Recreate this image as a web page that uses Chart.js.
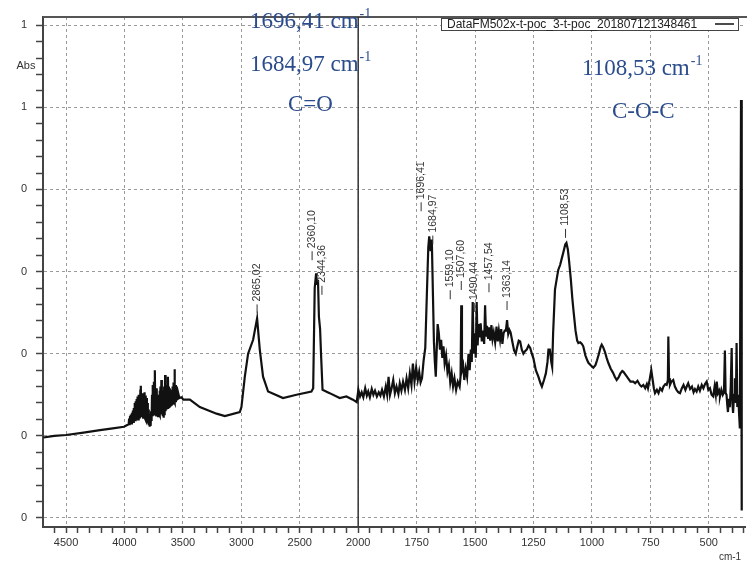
<!DOCTYPE html>
<html>
<head>
<meta charset="utf-8">
<script src="https://cdn.jsdelivr.net/npm/chart.js@4.4.1/dist/chart.umd.min.js"></script>
<style>
  html, body { margin: 0; padding: 0; background: #fff; }
  canvas { display: block; }
</style>
</head>
<body>
<canvas id="spectrum" width="747" height="565"></canvas>
<script>
// IR spectrum, wavenumber (cm-1) vs absorbance
const seriesLabel = 'DataFM502x-t-poc_3-t-poc_201807121348461';

const wavenumbers = [
  4694, 4600, 4500, 4350, 4209, 4100, 4004,
  3964, 3960, 3956, 3952, 3948, 3944, 3940, 3936, 3932, 3928,
  3924, 3920, 3916, 3912, 3908, 3904, 3900, 3896, 3892, 3888,
  3884, 3880, 3876, 3872, 3868, 3864, 3860, 3856, 3852, 3848,
  3844, 3840, 3836, 3832, 3828, 3824, 3820, 3816, 3812, 3808,
  3804, 3800, 3796, 3792, 3788, 3784, 3780, 3776, 3772, 3768,
  3764, 3760, 3756, 3752, 3748, 3744, 3740, 3736, 3732, 3728,
  3724, 3720, 3716, 3712, 3708, 3704, 3700, 3696, 3692, 3688,
  3684, 3680, 3676, 3672, 3668, 3664, 3660, 3656, 3652, 3648,
  3644, 3640, 3636, 3632, 3628, 3624, 3620, 3616, 3612, 3608,
  3604, 3600, 3596, 3592, 3588, 3584, 3580, 3576, 3572, 3568,
  3564, 3560, 3556, 3552, 3548, 3544, 3540,
  3530, 3510, 3497,
  3440, 3355, 3212, 3141, 3013, 2999, 2970, 2942, 2899, 2865, 2842, 2814, 2771, 2643, 2528, 2400,
  2385, 2372, 2360, 2352, 2344, 2336, 2326, 2318, 2305, 2244, 2158, 2101, 2045, 2013,
  1999, 1992, 1985, 1978, 1970, 1963, 1957, 1950, 1942, 1935, 1928, 1920, 1912, 1905, 1898, 1890,
  1882, 1876, 1870, 1864, 1857, 1850, 1843, 1836, 1828, 1822, 1815, 1808, 1800, 1793, 1786, 1779,
  1772, 1766, 1759, 1752, 1745, 1739, 1733, 1727, 1720, 1713, 1706, 1700, 1696, 1690, 1685, 1680,
  1676, 1672, 1668, 1664, 1660, 1655, 1650, 1645, 1640, 1635, 1630, 1624, 1618, 1612, 1606, 1600,
  1594, 1588, 1581, 1574, 1566, 1562, 1559, 1556, 1551, 1546, 1540, 1534, 1528, 1523, 1518, 1514,
  1510, 1506, 1501, 1497, 1493, 1489, 1485, 1480, 1476, 1471, 1466, 1461, 1457, 1453, 1449, 1444,
  1440, 1435, 1430, 1425, 1420, 1414, 1408, 1403, 1398, 1393, 1388, 1383, 1378, 1373, 1368, 1363,
  1358, 1353, 1348, 1340, 1333, 1326, 1320, 1313, 1307, 1300, 1293, 1286, 1279, 1271, 1264, 1257,
  1250, 1240, 1229, 1220, 1214, 1205, 1197, 1190, 1186, 1180, 1174, 1170, 1166, 1158, 1150, 1144,
  1136, 1128, 1120, 1114, 1109, 1103, 1098, 1090, 1084, 1079, 1070, 1063, 1058, 1050, 1043, 1037,
  1028, 1020, 1015, 1005, 994, 985, 978, 970, 963, 958, 952, 944, 937, 930, 920, 910,
  902, 894, 886, 878, 870, 865, 855, 845, 835, 823, 815, 805, 795, 788, 780, 772,
  765, 760, 752, 746, 740, 735, 730, 722, 715, 708, 700, 694, 686, 680, 675, 673,
  670, 666, 660, 652, 645, 638, 630, 623, 615, 608, 600, 593, 588, 580, 572, 565,
  559, 552, 545, 538, 530, 523, 516, 509, 502, 495, 488, 481, 475, 470, 466, 461,
  456, 452, 446, 440, 435, 431, 428, 424, 421, 418, 414, 410, 406, 402, 399, 396,
  392, 388, 384, 381, 378, 374, 370, 367, 362, 359
];

const absorbance = [
  0.098, 0.100, 0.101, 0.104, 0.107, 0.109, 0.111,
  0.114, 0.121, 0.113, 0.124, 0.116, 0.126, 0.115, 0.128, 0.118, 0.131,
  0.117, 0.134, 0.120, 0.140, 0.119, 0.142, 0.121, 0.145, 0.122, 0.148,
  0.120, 0.150, 0.123, 0.146, 0.121, 0.155, 0.161, 0.124, 0.150, 0.125,
  0.152, 0.122, 0.148, 0.124, 0.153, 0.121, 0.149, 0.119, 0.146, 0.117,
  0.140, 0.115, 0.132, 0.113, 0.126, 0.111, 0.124, 0.112, 0.130, 0.118,
  0.150, 0.124, 0.162, 0.128, 0.166, 0.126, 0.180, 0.127, 0.150, 0.125,
  0.158, 0.126, 0.148, 0.124, 0.150, 0.127, 0.155, 0.125, 0.160, 0.128,
  0.168, 0.126, 0.150, 0.124, 0.155, 0.122, 0.160, 0.125, 0.174, 0.130,
  0.160, 0.132, 0.162, 0.134, 0.172, 0.135, 0.160, 0.136, 0.158, 0.137,
  0.156, 0.138, 0.155, 0.139, 0.160, 0.140, 0.165, 0.142, 0.181, 0.140,
  0.162, 0.141, 0.160, 0.143, 0.155, 0.144, 0.152,
  0.146, 0.147, 0.144,
  0.144, 0.135, 0.127, 0.124, 0.129, 0.135, 0.172, 0.200, 0.217, 0.243, 0.205, 0.172, 0.154, 0.146, 0.150, 0.154,
  0.158, 0.280, 0.298, 0.285, 0.290, 0.245, 0.230, 0.200, 0.156, 0.152, 0.146, 0.148, 0.144, 0.141,
  0.156, 0.148, 0.153, 0.147, 0.158, 0.149, 0.154, 0.147, 0.157, 0.150, 0.155, 0.148, 0.153, 0.149, 0.156, 0.148,
  0.160, 0.150, 0.172, 0.150, 0.158, 0.168, 0.152, 0.160, 0.151, 0.164, 0.155, 0.166, 0.156, 0.170, 0.158, 0.176,
  0.162, 0.188, 0.166, 0.183, 0.168, 0.178, 0.165, 0.170, 0.192, 0.207, 0.274, 0.330, 0.343, 0.325, 0.339, 0.270,
  0.215, 0.190, 0.172, 0.205, 0.236, 0.225, 0.205, 0.217, 0.195, 0.209, 0.188, 0.198, 0.178, 0.186, 0.165, 0.176,
  0.160, 0.170, 0.156, 0.166, 0.160, 0.172, 0.259, 0.180, 0.186, 0.168, 0.182, 0.172, 0.200, 0.180, 0.205, 0.190,
  0.263, 0.200, 0.225, 0.195, 0.263, 0.210, 0.236, 0.220, 0.237, 0.215, 0.228, 0.212, 0.259, 0.222, 0.234, 0.218,
  0.232, 0.216, 0.235, 0.218, 0.226, 0.214, 0.233, 0.215, 0.228, 0.217, 0.230, 0.212, 0.225, 0.228, 0.228, 0.241,
  0.224, 0.229, 0.226, 0.214, 0.204, 0.200, 0.208, 0.216, 0.215, 0.205, 0.200, 0.203, 0.205, 0.210, 0.207, 0.200,
  0.194, 0.180, 0.172, 0.164, 0.160, 0.168, 0.176, 0.190, 0.205, 0.205, 0.190, 0.184, 0.225, 0.278, 0.292, 0.302,
  0.308, 0.317, 0.326, 0.333, 0.335, 0.327, 0.314, 0.290, 0.268, 0.253, 0.228, 0.216, 0.213, 0.214, 0.212, 0.209,
  0.198, 0.192, 0.189, 0.186, 0.183, 0.186, 0.192, 0.200, 0.208, 0.211, 0.208, 0.202, 0.195, 0.189, 0.182, 0.177,
  0.172, 0.168, 0.171, 0.176, 0.179, 0.178, 0.174, 0.170, 0.166, 0.166, 0.164, 0.167, 0.162, 0.160, 0.162, 0.158,
  0.163, 0.158, 0.170, 0.180, 0.168, 0.158, 0.152, 0.156, 0.152, 0.158, 0.155, 0.160, 0.163, 0.162, 0.168, 0.221,
  0.170, 0.162, 0.166, 0.168, 0.160, 0.156, 0.153, 0.152, 0.158, 0.162, 0.156, 0.161, 0.164, 0.157, 0.160, 0.153,
  0.157, 0.154, 0.160, 0.155, 0.162, 0.158, 0.163, 0.166, 0.156, 0.158, 0.150, 0.148, 0.160, 0.150, 0.166, 0.152,
  0.155, 0.148, 0.156, 0.150, 0.153, 0.204, 0.152, 0.150, 0.138, 0.129, 0.145, 0.135, 0.160, 0.207, 0.140, 0.128,
  0.150, 0.170, 0.140, 0.213, 0.135, 0.150, 0.125, 0.109, 0.509, 0.009
];

// axis break at 2000 cm-1: 500 per division on the left, 250 per division on the right
const xTickValues = [4500, 4000, 3500, 3000, 2500, 2000, 1750, 1500, 1250, 1000, 750, 500];
const xTickLabels = ['4500', '4000', '3500', '3000', '2500', '2000', '1750', '1500', '1250', '1000', '750', '500'];
const yTickValues = [0, 0.1, 0.2, 0.3, 0.4, 0.5, 0.6];
const yTickLabels = ['0', '0', '0', '0', '0', '1', '1'];

const peakWavenumbers = [2865.02, 2360.10, 2344.36, 1696.41, 1684.97, 1559.10, 1507.60, 1490.44, 1457.54, 1363.14, 1108.53];
const peakLabels = ['2865,02', '2360,10', '2344,36', '1696,41', '1684,97', '1559,10', '1507,60', '1490,44', '1457,54', '1363,14', '1108,53'];
// label placement: [x shift px, lift above peak px]
const peakLabelShift = [[0, 17], [-4, 25], [4, -3], [-8, 37], [1, 7], [-11, 18], [-12, 24], [-3, 2], [4, 25], [0, 22], [-1, 17]];

const notes = [
  { text: '1696,41 cm', sup: '-1', x: 250, y: 28 },
  { text: '1684,97 cm', sup: '-1', x: 250, y: 71 },
  { text: 'C=O', sup: '', x: 288, y: 111 },
  { text: '1108,53 cm', sup: '-1', x: 582, y: 75 },
  { text: 'C-O-C', sup: '', x: 612, y: 118 }
];

const toAxis = w => w >= 2000 ? (4500 - w) / 500 : 5 + (2000 - w) / 250;
const xMajor = xTickValues.map(toAxis);

const points = wavenumbers.map((w, i) => ({ x: toAxis(w), y: absorbance[i] }));

const peakValue = w => {
  let best = 0;
  wavenumbers.forEach((v, i) => {
    if (Math.abs(v - w) <= 4 && absorbance[i] > best) best = absorbance[i];
  });
  return best;
};

const isMajorX = v => xMajor.some(m => Math.abs(m - v) < 1e-6);
const isMajorY = v => yTickValues.some(m => Math.abs(m - v) < 1e-6);

const decorations = {
  id: 'decorations',
  beforeDatasetsDraw(chart) {
    const { ctx, chartArea: a, scales: { x } } = chart;
    ctx.save();
    // top frame
    ctx.strokeStyle = '#555';
    ctx.lineWidth = 2;
    ctx.beginPath();
    ctx.moveTo(a.left, a.top);
    ctx.lineTo(chart.width, a.top);
    ctx.stroke();
    // axis break line
    const xb = x.getPixelForValue(toAxis(2000));
    ctx.strokeStyle = '#333';
    ctx.lineWidth = 1.5;
    ctx.beginPath();
    ctx.moveTo(xb, a.top);
    ctx.lineTo(xb, a.bottom);
    ctx.stroke();
    ctx.restore();
  },
  afterDraw(chart) {
    const { ctx, chartArea: a, scales: { x, y } } = chart;
    ctx.save();

    // peak labels
    ctx.font = '10.5px "Liberation Sans", Arial, sans-serif';
    ctx.fillStyle = '#333';
    ctx.strokeStyle = '#333';
    ctx.lineWidth = 1;
    peakWavenumbers.forEach((w, i) => {
      const px = x.getPixelForValue(toAxis(w));
      const py = y.getPixelForValue(peakValue(w));
      const tx = px + peakLabelShift[i][0];
      const base = py - peakLabelShift[i][1];
      ctx.beginPath();
      ctx.moveTo(tx, base + 12);
      ctx.lineTo(tx, base + 3);
      ctx.stroke();
      ctx.save();
      ctx.translate(tx, base);
      ctx.rotate(-Math.PI / 2);
      ctx.textAlign = 'left';
      ctx.textBaseline = 'middle';
      ctx.fillText(peakLabels[i], 0, 0);
      ctx.restore();
    });

    // legend box
    const lx = a.right - 304, ly = a.top + 1;
    ctx.fillStyle = '#fff';
    ctx.fillRect(lx, ly, 297, 12);
    ctx.strokeStyle = '#444';
    ctx.lineWidth = 1;
    ctx.strokeRect(lx + 0.5, ly + 0.5, 297, 12);
    ctx.fillStyle = '#222';
    ctx.font = '12px "Liberation Sans", Arial, sans-serif';
    ctx.textAlign = 'left';
    ctx.textBaseline = 'middle';
    ctx.fillText(seriesLabel, lx + 6, ly + 7);
    ctx.strokeStyle = '#111';
    ctx.lineWidth = 1.5;
    ctx.beginPath();
    ctx.moveTo(lx + 274, ly + 6);
    ctx.lineTo(lx + 293, ly + 6);
    ctx.stroke();

    // axis titles
    ctx.fillStyle = '#333';
    ctx.font = '11px "Liberation Sans", Arial, sans-serif';
    ctx.textAlign = 'center';
    ctx.fillText('Abs', 26, 66);
    ctx.font = '10px "Liberation Sans", Arial, sans-serif';
    ctx.fillText('cm-1', 730, 557);

    // blue notes
    ctx.fillStyle = '#2B4C8C';
    ctx.textAlign = 'left';
    ctx.textBaseline = 'alphabetic';
    notes.forEach(n => {
      ctx.font = '23px "Liberation Serif", "Times New Roman", serif';
      ctx.fillText(n.text, n.x, n.y);
      if (n.sup) {
        const w = ctx.measureText(n.text).width;
        ctx.font = '14px "Liberation Serif", "Times New Roman", serif';
        ctx.fillText(n.sup, n.x + w + 1, n.y - 10);
      }
    });
    ctx.restore();
  }
};

new Chart(document.getElementById('spectrum'), {
  type: 'line',
  data: {
    datasets: [{
      label: seriesLabel,
      data: points,
      borderColor: '#111',
      borderWidth: 2.2,
      pointRadius: 0,
      fill: false,
      tension: 0
    }]
  },
  options: {
    responsive: false,
    animation: false,
    devicePixelRatio: 1,
    layout: { padding: { top: 17, right: 2, left: 0, bottom: 0 } },
    plugins: { legend: { display: false }, tooltip: { enabled: false } },
    scales: {
      x: {
        type: 'linear',
        min: toAxis(4697),
        max: toAxis(345),
        afterFit: s => { s.height = 38; },
        afterBuildTicks: s => {
          const t = [];
          for (let k = -5; k <= 60; k++) {
            const u = k / 5;
            if (u >= s.min && u <= s.max) t.push({ value: u });
          }
          s.ticks = t;
        },
        ticks: {
          autoSkip: false,
          maxRotation: 0,
          padding: 3,
          color: '#333',
          font: { size: 11, family: '"Liberation Sans", Arial, sans-serif' },
          callback: v => {
            const i = xMajor.findIndex(m => Math.abs(m - v) < 1e-6);
            return i >= 0 ? xTickLabels[i] : '';
          }
        },
        grid: {
          color: c => (c.tick && isMajorX(c.tick.value)) ? '#9a9a9a' : 'rgba(0,0,0,0)',
          lineWidth: 1,
          tickLength: 6,
          tickColor: '#444',
          tickWidth: 1.5
        },
        border: { color: '#444', width: 2, dash: [3, 3] }
      },
      y: {
        type: 'linear',
        min: -0.011,
        max: 0.61,
        afterFit: s => { s.width = 43; },
        afterBuildTicks: s => {
          const t = [];
          for (let k = 0; k <= 30; k++) t.push({ value: k * 0.02 });
          s.ticks = t;
        },
        ticks: {
          autoSkip: false,
          padding: 9,
          color: '#333',
          font: { size: 11, family: '"Liberation Sans", Arial, sans-serif' },
          callback: v => {
            const i = yTickValues.findIndex(m => Math.abs(m - v) < 1e-6);
            return i >= 0 ? yTickLabels[i] : '';
          }
        },
        grid: {
          color: c => (c.tick && isMajorY(c.tick.value)) ? '#9a9a9a' : 'rgba(0,0,0,0)',
          lineWidth: 1,
          tickLength: 7,
          tickColor: '#444',
          tickWidth: 1.5
        },
        border: { color: '#444', width: 2, dash: [3, 3] }
      }
    }
  },
  plugins: [decorations]
});
</script>
</body>
</html>
